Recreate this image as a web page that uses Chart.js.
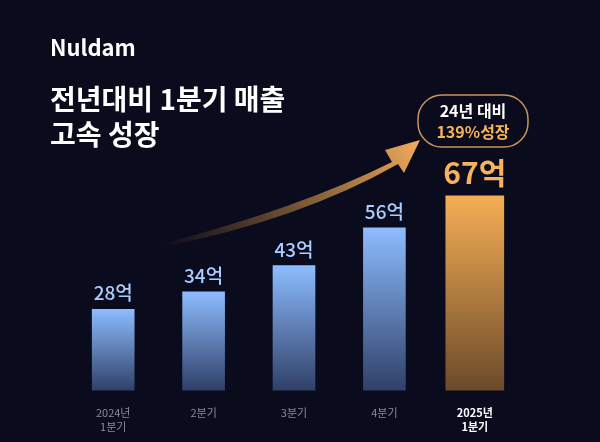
<!DOCTYPE html>
<html><head><meta charset="utf-8">
<script src="https://cdn.jsdelivr.net/npm/chart.js@4.4.0/dist/chart.umd.min.js"></script>
<style>
html,body{margin:0;padding:0;background:#0a0b1c;}
#wrap{width:600px;height:442px;position:relative;}
</style></head>
<body><div id="wrap"><canvas id="c"></canvas></div>
<script>
const labels = [['2024년','1분기'], '2분기', '3분기', '4분기', ['2025년','1분기']];
const pastValues = [28, 34, 43, 56, null];
const currentValues = [null, null, null, null, 67];
const valueText = ['28억', '34억', '43억', '56억', '67억'];
const brand = 'Nuldam';
const titleLines = ['전년대비 1분기 매출', '고속 성장'];
const calloutLines = ['24년 대비', '139%성장'];

const FONT = "'Noto Sans CJK KR', 'Noto Sans', sans-serif";

function barGradient(ctx, top, bottom) {
  const { chart, dataIndex, datasetIndex } = ctx;
  const y = chart.scales.y;
  const v = chart.data.datasets[datasetIndex].data[dataIndex];
  if (!y || v == null) return top;
  const y1 = y.getPixelForValue(v), y0 = y.getPixelForValue(0);
  if (!isFinite(y1) || !isFinite(y0) || y0 === y1) return top;
  const g = chart.ctx.createLinearGradient(0, y1, 0, y0);
  g.addColorStop(0, top);
  g.addColorStop(1, bottom);
  return g;
}

const decor = {
  id: 'decor',
  afterDatasetsDraw(chart) {
    const c = chart.ctx;
    c.save();
    // headline
    c.fillStyle = '#ffffff';
    c.textBaseline = 'alphabetic';
    c.font = `bold 22px ${FONT}`;
    c.fillText(brand, 50, 56);
    c.font = `bold 28px ${FONT}`;
    c.fillText(titleLines[0], 50, 110);
    c.fillText(titleLines[1], 50, 145);

    // value labels
    c.textAlign = 'center';
    chart.data.datasets.forEach((ds, di) => {
      chart.getDatasetMeta(di).data.forEach((bar, i) => {
        if (ds.data[i] == null) return;
        if (di === 1) {
          c.fillStyle = '#f6b25c';
          c.font = `bold 30px ${FONT}`;
          c.fillText(valueText[i], bar.x, bar.y - 12);
        } else {
          c.fillStyle = '#a9cdff';
          c.font = `500 19px ${FONT}`;
          c.fillText(valueText[i], bar.x, bar.y - 9);
        }
      });
    });

    // arrow swoosh
    const g = c.createLinearGradient(160, 245, 415, 140);
    g.addColorStop(0, 'rgba(200,140,70,0)');
    g.addColorStop(1, 'rgba(240,170,90,1)');
    c.fillStyle = g;
    c.beginPath();
    c.moveTo(158, 245);
    c.quadraticCurveTo(300, 208, 392, 162);
    c.lineTo(385, 150);
    c.lineTo(420, 140);
    c.lineTo(404, 173);
    c.lineTo(398, 164);
    c.quadraticCurveTo(300, 220, 158, 248);
    c.closePath();
    c.fill();

    // callout
    c.strokeStyle = '#c9955a';
    c.lineWidth = 1.5;
    c.beginPath();
    c.roundRect(418, 95, 110, 52, 24);
    c.stroke();
    c.font = `bold 16px ${FONT}`;
    c.fillStyle = '#ffffff';
    c.fillText(calloutLines[0], 473, 117);
    c.fillStyle = '#f6b25c';
    c.fillText(calloutLines[1], 473, 138);
    c.restore();
  }
};

new Chart(document.getElementById('c'), {
  type: 'bar',
  data: {
    labels: labels,
    datasets: [
      { data: pastValues, barThickness: 42, skipNull: true,
        backgroundColor: ctx => barGradient(ctx, '#8dbcff', '#2f4068') },
      { data: currentValues, barThickness: 58, skipNull: true,
        backgroundColor: ctx => barGradient(ctx, '#f6ae55', '#6b4a2a') }
    ]
  },
  options: {
    responsive: true,
    maintainAspectRatio: false,
    animation: false,
    layout: { padding: { top: 100, left: 68, right: 80, bottom: 1 } },
    plugins: { legend: { display: false }, tooltip: { enabled: false } },
    scales: {
      x: {
        stacked: true,
        grid: { display: false }, border: { display: false },
        ticks: {
          padding: 8,
          font: ctx => ({ family: FONT, size: 11, weight: ctx.index === 4 ? 'bold' : 'normal' }),
          color: ctx => ctx.index === 4 ? '#ffffff' : '#8a8c96'
        }
      },
      y: {
        stacked: true, display: false, min: 0, max: 100
      }
    }
  },
  plugins: [decor]
});
</script></body></html>
